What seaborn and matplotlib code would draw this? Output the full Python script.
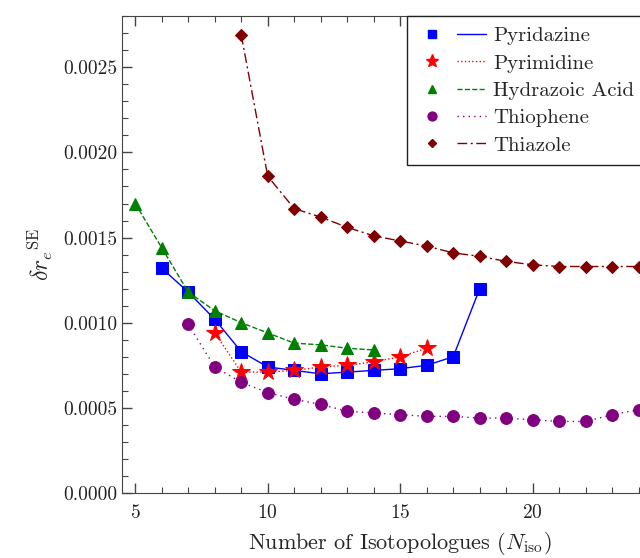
import matplotlib
matplotlib.use("Agg")
import matplotlib.pyplot as plt
import numpy as np
import pandas as pd
import seaborn as sns
from matplotlib.legend_handler import HandlerTuple
from matplotlib.lines import Line2D
from matplotlib.ticker import FixedLocator, FormatStrFormatter, MultipleLocator

# values
pyridazine_n = [6, 7, 8, 9, 10, 11, 12, 13, 14, 15, 16, 17, 18]
pyridazine_se = [0.00132, 0.00118, 0.00102, 0.00083, 0.00074, 0.00072, 0.00070,
                 0.00071, 0.00072, 0.00073, 0.00075, 0.00080, 0.00120]

pyrimidine_n = [8, 9, 10, 11, 12, 13, 14, 15, 16]
pyrimidine_se = [0.00094, 0.00071, 0.00071, 0.00072, 0.00074, 0.00075,
                 0.00077, 0.00080, 0.00085]

hydrazoic_n = [5, 6, 7, 8, 9, 10, 11, 12, 13, 14]
hydrazoic_se = [0.00170, 0.00144, 0.00118, 0.00107, 0.00100, 0.00094,
                0.00088, 0.00087, 0.00085, 0.00084]

thiophene_n = [7, 8, 9, 10, 11, 12, 13, 14, 15, 16, 17, 18, 19, 20, 21, 22, 23, 24]
thiophene_se = [0.00099, 0.00074, 0.00065, 0.00059, 0.00055, 0.00052, 0.00048,
                0.00047, 0.00046, 0.00045, 0.00045, 0.00044, 0.00044, 0.00043,
                0.00042, 0.00042, 0.00046, 0.00049]

thiazole_n = [9, 10, 11, 12, 13, 14, 15, 16, 17, 18, 19, 20, 21, 22, 23, 24]
thiazole_se = [0.00269, 0.00186, 0.00167, 0.00162, 0.00156, 0.00151, 0.00148,
               0.00145, 0.00141, 0.00139, 0.00136, 0.00134, 0.00133, 0.00133,
               0.00133, 0.00133]

x_major = [5, 10, 15, 20]

series = [
    ("Pyridazine", pyridazine_n, pyridazine_se, "#0000ff", "s", "-", 8.5),
    ("Pyrimidine", pyrimidine_n, pyrimidine_se, "#ff0000", "*", ":", 13),
    ("Hydrazoic Acid", hydrazoic_n, hydrazoic_se, "#008000", "^", "--", 8.5),
    ("Thiophene", thiophene_n, thiophene_se, "#800080", "o", (0, (1, 3)), 8.5),
    ("Thiazole", thiazole_n, thiazole_se, "#800000", "D", (0, (7, 2.5, 1.5, 2.5)), 6),
]

sns.set_style("ticks")
plt.rcParams.update({
    "font.family": ["cmr10", "DejaVu Serif"],
    "mathtext.fontset": "cm",
    "axes.formatter.use_mathtext": True,
    "axes.edgecolor": "#444444",
    "xtick.color": "#444444",
    "ytick.color": "#444444",
    "xtick.labelcolor": "#222222",
    "ytick.labelcolor": "#222222",
})

fig = plt.figure(figsize=(6.4, 5.58), dpi=100)
ax = fig.add_axes([0.1906, 0.1165, 0.8695, 0.8545])

handles = []
for name, n, se, color, marker, ls, ms in series:
    df = pd.DataFrame({"n": n, "se": se})
    sns.lineplot(data=df, x="n", y="se", color=color, marker=marker, markersize=ms,
                 markeredgecolor=color, linestyle=ls, linewidth=1.0, ax=ax)
    mk = Line2D([], [], color=color, marker=marker, linestyle="none",
                markersize=ms * 0.75, markeredgecolor=color)
    ln = Line2D([], [], color=color, linestyle=ls, linewidth=1.0)
    handles.append((mk, ln))

ax.set_xlim(4.5, 25.5)
ax.set_ylim(0, 0.0028)
ax.xaxis.set_major_locator(FixedLocator(x_major))
ax.xaxis.set_minor_locator(MultipleLocator(1))
ax.yaxis.set_major_locator(MultipleLocator(0.0005))
ax.yaxis.set_minor_locator(MultipleLocator(0.0001))
ax.yaxis.set_major_formatter(FormatStrFormatter("%.4f"))
ax.tick_params(which="both", direction="in", top=True, right=True, labelsize=14)
ax.tick_params(which="major", length=7, width=1)
ax.tick_params(which="minor", length=4, width=0.8)
ax.tick_params(axis="x", pad=8)
ax.set_xlabel(r"Number of Isotopologues ($N_{\rm iso}$)", fontsize=16, labelpad=6)
ax.set_ylabel(r"$\delta {r_e}^{\rm SE}$", fontsize=17, labelpad=6)

leg = ax.legend(handles, [s[0] for s in series],
                handler_map={tuple: HandlerTuple(ndivide=None, pad=0.5)},
                loc="upper left", bbox_to_anchor=(0.512, 1.0), borderaxespad=0,
                fontsize=15, handlelength=3.3, handletextpad=0.35,
                labelspacing=0.42, frameon=True, fancybox=False,
                framealpha=1, edgecolor="#222222", borderpad=0.5)
leg.get_frame().set_linewidth(1.0)

fig.savefig("out.png", dpi=100)
